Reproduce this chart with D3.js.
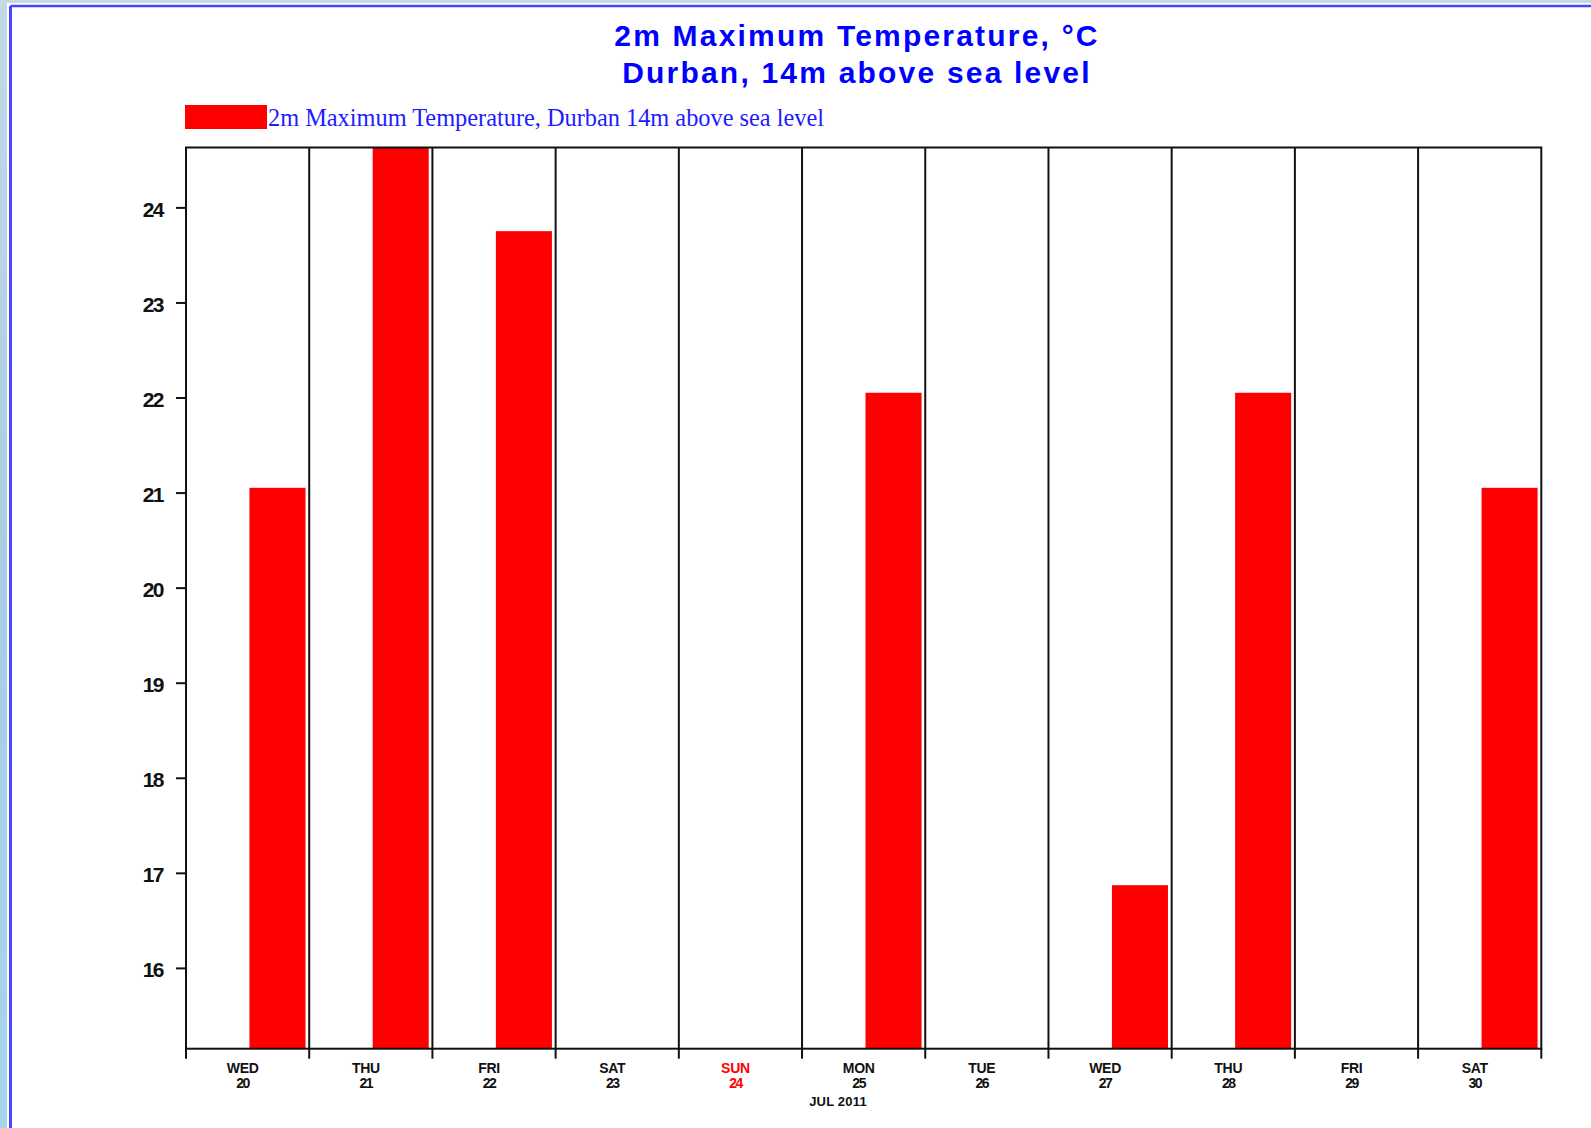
<!DOCTYPE html>
<html>
<head>
<meta charset="utf-8">
<script src="https://cdn.jsdelivr.net/npm/d3@7/dist/d3.min.js"></script>
<style>
  html, body { margin: 0; padding: 0; background: #fff; }
  svg { display: block; }
</style>
</head>
<body>
<div id="chart"></div>
<script>
// Daily maximum temperature at 2 m, Durban, week of 20–30 July 2011
const dayNames  = ["WED", "THU", "FRI", "SAT", "SUN", "MON", "TUE", "WED", "THU", "FRI", "SAT"];
const dayDates  = ["20", "21", "22", "23", "24", "25", "26", "27", "28", "29", "30"];
const maxTemp   = [21.05, 24.63, 23.75, null, null, 22.05, null, 16.87, 22.05, null, 21.05];
const yTicks    = [16, 17, 18, 19, 20, 21, 22, 23, 24];
const titleLines = ["2m Maximum Temperature, \u00B0C", "Durban, 14m above sea level"];
const legendText = "2m Maximum Temperature, Durban 14m above sea level";
const monthLabel = "JUL 2011";
const yMin = 15.15;

const W = 1591, H = 1128;
const plot = { left: 186, right: 1541.3, top: 147.5, bottom: 1048.7 };
const titleX = 857;
const monthX = 838;

const svg = d3.select("#chart").append("svg")
  .attr("width", W).attr("height", H);

// page backdrop and framed panel
const defs = svg.append("defs");
const bg = defs.append("linearGradient").attr("id", "pageBg")
  .attr("x1", 0).attr("y1", 0).attr("x2", 0).attr("y2", 1);
bg.append("stop").attr("offset", 0).attr("stop-color", "#c4d8e6");
bg.append("stop").attr("offset", 0.5).attr("stop-color", "#a9cde2");
bg.append("stop").attr("offset", 1).attr("stop-color", "#a4d6ea");
svg.append("rect").attr("width", W).attr("height", H).attr("fill", "url(#pageBg)");
svg.append("rect").attr("x", 7).attr("y", 3).attr("width", W - 7).attr("height", H - 3).attr("fill", "#fff");
svg.append("line").attr("x1", 10.5).attr("x2", W).attr("y1", 6).attr("y2", 6)
  .attr("stroke", "#4646ff").attr("stroke-width", 2.6);
svg.append("line").attr("x1", 10.5).attr("x2", 10.5).attr("y1", 6).attr("y2", H)
  .attr("stroke", "#4646ff").attr("stroke-width", 3);

// scales
const idx = d3.range(dayNames.length);
const x = d3.scaleBand().domain(idx).range([plot.left, plot.right]).paddingInner(0).paddingOuter(0);
const y = d3.scaleLinear().domain([yMin, d3.max(maxTemp)]).range([plot.bottom, plot.top]);
const bw = x.bandwidth();

// title
svg.append("g").selectAll("text").data(titleLines).join("text")
  .attr("x", titleX).attr("y", (d, i) => 46.4 + i * 37)
  .attr("text-anchor", "middle")
  .attr("font-family", "'Liberation Sans', Arial, sans-serif")
  .attr("font-weight", "bold").attr("font-size", 30).attr("letter-spacing", 2.2)
  .attr("fill", "#0000ff")
  .text(d => d);

// legend
svg.append("rect").attr("x", 185).attr("y", 105).attr("width", 82).attr("height", 24).attr("fill", "#ff0000");
svg.append("text").attr("x", 268).attr("y", 126)
  .attr("font-family", "'Liberation Serif', 'Times New Roman', serif")
  .attr("font-size", 25)
  .attr("textLength", 556).attr("lengthAdjust", "spacingAndGlyphs")
  .attr("fill", "#1c1cff")
  .text(legendText);

// bars
defs.append("clipPath").attr("id", "plotClip").append("rect")
  .attr("x", plot.left).attr("y", plot.top)
  .attr("width", plot.right - plot.left).attr("height", plot.bottom - plot.top);

svg.append("g").attr("clip-path", "url(#plotClip)")
  .selectAll("rect").data(idx.filter(i => maxTemp[i] != null)).join("rect")
  .attr("x", i => x(i) + bw * 0.515)
  .attr("width", bw * 0.455)
  .attr("y", i => y(maxTemp[i]))
  .attr("height", i => plot.bottom - y(maxTemp[i]))
  .attr("fill", "#ff0000");

// day separators
const bounds = idx.map(i => x(i)).concat([plot.right]);
svg.append("g").selectAll("line").data(bounds.slice(1, -1)).join("line")
  .attr("x1", d => d).attr("x2", d => d)
  .attr("y1", plot.top).attr("y2", plot.bottom)
  .attr("stroke", "#111").attr("stroke-width", 2);

// frame
svg.append("rect")
  .attr("x", plot.left).attr("y", plot.top)
  .attr("width", plot.right - plot.left).attr("height", plot.bottom - plot.top)
  .attr("fill", "none").attr("stroke", "#111").attr("stroke-width", 2);

// y axis
const yAxis = d3.axisLeft(y).tickValues(yTicks).tickSize(10).tickPadding(13).tickFormat(d3.format("d"));
const gy = svg.append("g").attr("transform", `translate(${plot.left},0)`).call(yAxis);
gy.select(".domain").remove();
gy.selectAll(".tick line").attr("stroke", "#111").attr("stroke-width", 2);
gy.selectAll(".tick text")
  .attr("font-family", "'Liberation Sans', Arial, sans-serif")
  .attr("font-weight", "bold").attr("font-size", 21).attr("letter-spacing", -1.5)
  .attr("dy", "0.42em")
  .attr("fill", "#111");

// x axis ticks at day boundaries
svg.append("g").selectAll("line").data(bounds).join("line")
  .attr("x1", d => d).attr("x2", d => d)
  .attr("y1", plot.bottom).attr("y2", plot.bottom + 10)
  .attr("stroke", "#111").attr("stroke-width", 2);

// day labels
const labels = svg.append("g")
  .attr("font-family", "'Liberation Sans', Arial, sans-serif")
  .attr("font-weight", "bold").attr("font-size", 14)
  .attr("text-anchor", "middle");
const lab = labels.selectAll("g").data(idx).join("g")
  .attr("transform", i => `translate(${x(i) + bw / 2 - 5},0)`)
  .attr("fill", i => dayNames[i] === "SUN" ? "#ff0000" : "#111");
lab.append("text").attr("y", 1072.5).attr("letter-spacing", -0.3).text(i => dayNames[i]);
lab.append("text").attr("y", 1088).attr("letter-spacing", -1.5).text(i => dayDates[i]);

svg.append("text").attr("x", monthX).attr("y", 1106)
  .attr("text-anchor", "middle")
  .attr("font-family", "'Liberation Sans', Arial, sans-serif")
  .attr("font-weight", "bold").attr("font-size", 13).attr("letter-spacing", 0.2)
  .attr("fill", "#111")
  .text(monthLabel);
</script>
</body>
</html>
